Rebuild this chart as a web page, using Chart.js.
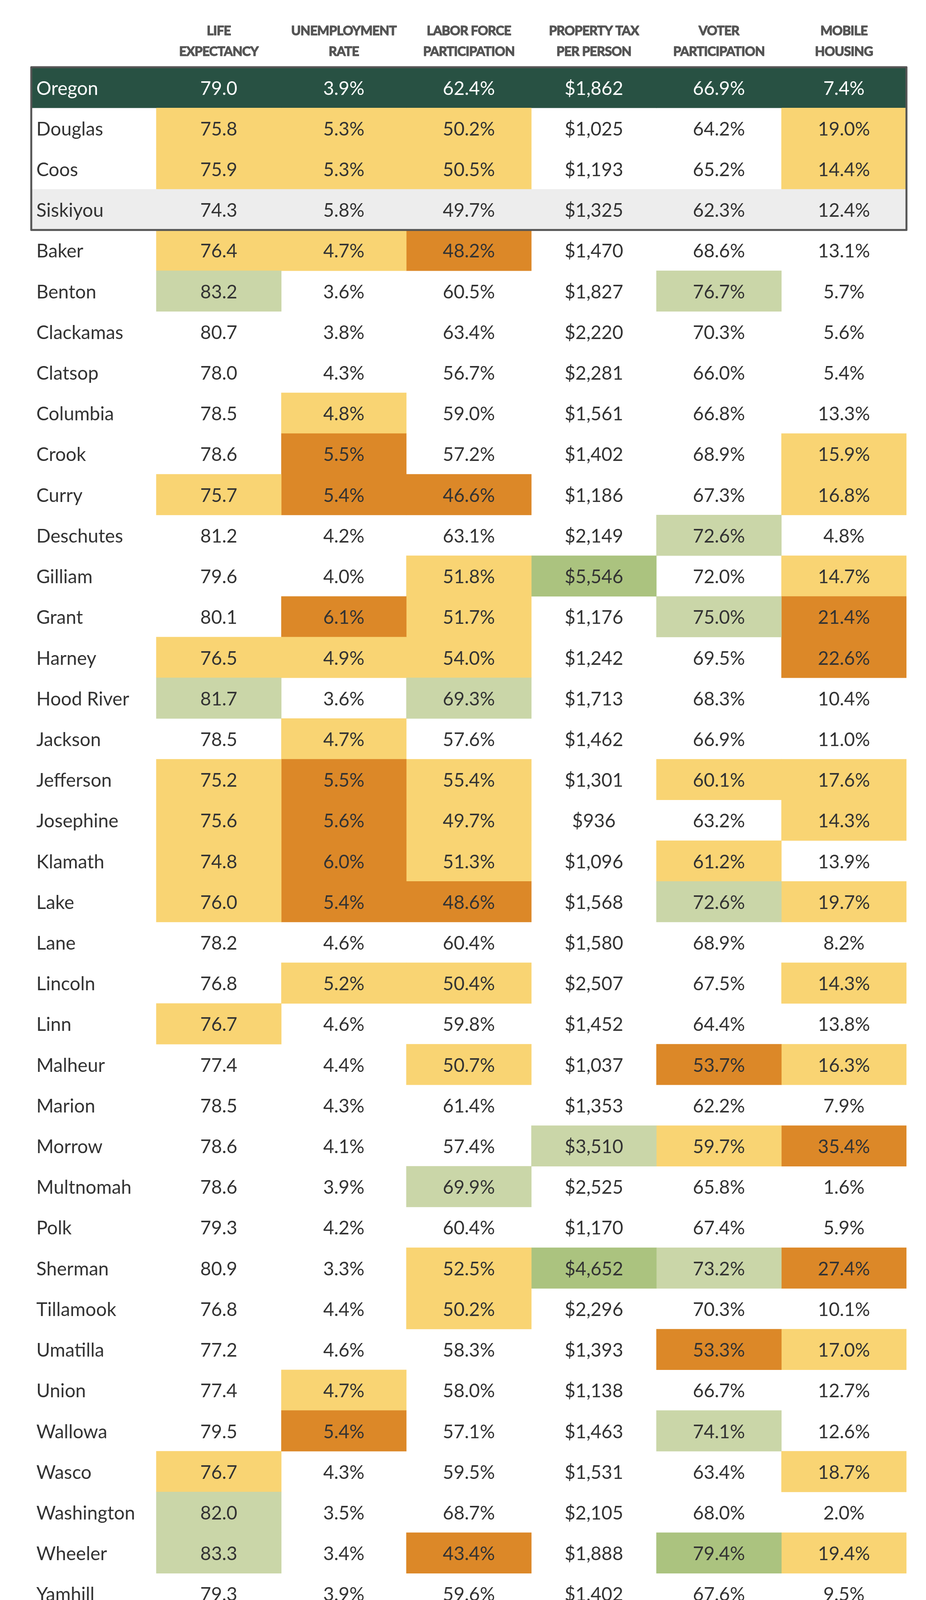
<!DOCTYPE html>
<html>
<head>
<meta charset="utf-8">
<script src="https://cdn.jsdelivr.net/npm/chart.js@4/dist/chart.umd.min.js"></script>
<style>
  html, body { margin: 0; padding: 0; background: #ffffff; overflow: hidden; }
  #wrap { width: 2370px; height: 4170px; overflow: hidden; }
  #c { display: block; }
</style>
</head>
<body>
<div id="wrap"><canvas id="c" width="2370" height="4170"></canvas></div>
<script>
// ---------------- DATA ----------------
const rowNames = ["Oregon","Douglas","Coos","Siskiyou","Baker","Benton","Clackamas","Clatsop","Columbia","Crook","Curry","Deschutes","Gilliam","Grant","Harney","Hood River","Jackson","Jefferson","Josephine","Klamath","Lake","Lane","Lincoln","Linn","Malheur","Marion","Morrow","Multnomah","Polk","Sherman","Tillamook","Umatilla","Union","Wallowa","Wasco","Washington","Wheeler","Yamhill"];
// row kind: state total, highlighted counties, comparison county, others
const rowKinds = ["state","box","box","compare","","","","","","","","","","","","","","","","","","","","","","","","","","","","","","","","","",""];

const columnHeaders = [["LIFE","EXPECTANCY"],["UNEMPLOYMENT","RATE"],["LABOR FORCE","PARTICIPATION"],["PROPERTY TAX","PER PERSON"],["VOTER","PARTICIPATION"],["MOBILE","HOUSING"]];

const lifeExpectancy = [79.0,75.8,75.9,74.3,76.4,83.2,80.7,78.0,78.5,78.6,75.7,81.2,79.6,80.1,76.5,81.7,78.5,75.2,75.6,74.8,76.0,78.2,76.8,76.7,77.4,78.5,78.6,78.6,79.3,80.9,76.8,77.2,77.4,79.5,76.7,82.0,83.3,79.3];
const unemploymentRate = [3.9,5.3,5.3,5.8,4.7,3.6,3.8,4.3,4.8,5.5,5.4,4.2,4.0,6.1,4.9,3.6,4.7,5.5,5.6,6.0,5.4,4.6,5.2,4.6,4.4,4.3,4.1,3.9,4.2,3.3,4.4,4.6,4.7,5.4,4.3,3.5,3.4,3.9];
const laborForce = [62.4,50.2,50.5,49.7,48.2,60.5,63.4,56.7,59.0,57.2,46.6,63.1,51.8,51.7,54.0,69.3,57.6,55.4,49.7,51.3,48.6,60.4,50.4,59.8,50.7,61.4,57.4,69.9,60.4,52.5,50.2,58.3,58.0,57.1,59.5,68.7,43.4,59.6];
const propertyTax = [1862,1025,1193,1325,1470,1827,2220,2281,1561,1402,1186,2149,5546,1176,1242,1713,1462,1301,936,1096,1568,1580,2507,1452,1037,1353,3510,2525,1170,4652,2296,1393,1138,1463,1531,2105,1888,1402];
const voterParticipation = [66.9,64.2,65.2,62.3,68.6,76.7,70.3,66.0,66.8,68.9,67.3,72.6,72.0,75.0,69.5,68.3,66.9,60.1,63.2,61.2,72.6,68.9,67.5,64.4,53.7,62.2,59.7,65.8,67.4,73.2,70.3,53.3,66.7,74.1,63.4,68.0,79.4,67.6];
const mobileHousing = [7.4,19.0,14.4,12.4,13.1,5.7,5.6,5.4,13.3,15.9,16.8,4.8,14.7,21.4,22.6,10.4,11.0,17.6,14.3,13.9,19.7,8.2,14.3,13.8,16.3,7.9,35.4,1.6,5.9,27.4,10.1,17.0,12.7,12.6,18.7,2.0,19.4,9.5];

// shading levels: "" none, "Y" worse, "O" much worse, "G" better, "GG" much better
const lifeLevel = ["","Y","Y","","Y","G","","","","","Y","","","","Y","G","","Y","Y","Y","Y","","","Y","","","","","","","","","","","Y","G","G",""];
const unempLevel = ["","Y","Y","","Y","","","","Y","O","O","","","O","Y","","Y","O","O","O","O","","Y","","","","","","","","","","Y","O","","","",""];
const laborLevel = ["","Y","Y","","O","","","","","","O","","Y","Y","Y","G","","Y","Y","Y","O","","Y","","Y","","","G","","Y","Y","","","","","","O",""];
const taxLevel = ["","","","","","","","","","","","","GG","","","","","","","","","","","","","","G","","","GG","","","","","","","",""];
const voterLevel = ["","","","","","G","","","","","","G","","G","","","","Y","","Y","G","","","","O","","Y","","","G","","O","","G","","","GG",""];
const mobileLevel = ["","Y","Y","","","","","","","Y","Y","","Y","O","O","","","Y","Y","","Y","","Y","","Y","","O","","","O","","Y","","","Y","","Y",""];

// ---------------- STYLE ----------------
const levelColors = { "": "rgba(0,0,0,0)", "Y": "#F9D473", "O": "#DC8828", "G": "#CAD6A8", "GG": "#ABC37F" };
const stateColor = "#285143";
const compareColor = "#EDEDED";
const textColor = "#333333";
const headerColor = "#555555";
const bodyFont = "Lato";

const fmt1 = v => v.toFixed(1);
const fmtPct = v => v.toFixed(1) + "%";
const fmtUsd = v => "$" + v.toLocaleString("en-US");

const columns = [
  { values: lifeExpectancy, levels: lifeLevel, fmt: fmt1 },
  { values: unemploymentRate, levels: unempLevel, fmt: fmtPct },
  { values: laborForce, levels: laborLevel, fmt: fmtPct },
  { values: propertyTax, levels: taxLevel, fmt: fmtUsd },
  { values: voterParticipation, levels: voterLevel, fmt: fmtPct },
  { values: mobileHousing, levels: mobileLevel, fmt: fmtPct }
];

function cellColor(rowIdx, lvl) {
  const k = rowKinds[rowIdx];
  if (k === "state") return stateColor;
  if (k === "compare") return compareColor;
  return levelColors[lvl];
}

// dataset 0: name column background; datasets 1..6: value cells
const datasets = [];
datasets.push({
  label: "County",
  data: rowNames.map(() => [0, 1]),
  backgroundColor: rowNames.map((n, i) => cellColor(i, ""))
});
columns.forEach((col, ci) => {
  datasets.push({
    label: columnHeaders[ci].join(" "),
    data: col.values.map(() => [ci + 1, ci + 2]),
    backgroundColor: col.values.map((v, i) => cellColor(i, col.levels[i]))
  });
});

const textPlugin = {
  id: "tableText",
  afterDatasetsDraw(chart) {
    const ctx = chart.ctx;
    const xs = chart.scales.x, ys = chart.scales.y;
    const area = chart.chartArea;
    ctx.save();
    // headers (bold, tightly tracked, slightly emboldened with a stroke)
    ctx.fillStyle = headerColor;
    ctx.strokeStyle = headerColor;
    ctx.lineWidth = 1.6;
    ctx.lineJoin = "round";
    ctx.font = "bold 33px " + bodyFont;
    try { ctx.letterSpacing = "-0.8px"; } catch (e) {}
    ctx.textAlign = "center";
    ctx.textBaseline = "middle";
    columnHeaders.forEach((lines, ci) => {
      const cx = xs.getPixelForValue(ci + 1.5);
      lines.forEach((t, li) => {
        const y = area.top - 93 + li * 53;
        ctx.fillText(t, cx, y);
        ctx.strokeText(t, cx, y);
      });
    });
    try { ctx.letterSpacing = "0px"; } catch (e) {}
    // body
    ctx.font = "400 48px " + bodyFont;
    rowNames.forEach((name, ri) => {
      const cy = ys.getPixelForValue(ri) + 3;
      ctx.fillStyle = rowKinds[ri] === "state" ? "#ffffff" : textColor;
      ctx.textAlign = "left";
      ctx.fillText(name, xs.getPixelForValue(0) + 13, cy);
      ctx.textAlign = "center";
      columns.forEach((col, ci) => {
        ctx.fillText(col.fmt(col.values[ri]), xs.getPixelForValue(ci + 1.5), cy);
      });
    });
    // box around state + comparison rows
    const boxRows = rowKinds.map((k, i) => k ? i : -1).filter(i => i >= 0);
    const first = Math.min(...boxRows), last = Math.max(...boxRows);
    const half = (ys.getPixelForValue(1) - ys.getPixelForValue(0)) / 2;
    const top = ys.getPixelForValue(first) - half;
    const bot = ys.getPixelForValue(last) + half;
    ctx.strokeStyle = "#555555";
    ctx.lineWidth = 5;
    ctx.strokeRect(xs.getPixelForValue(0), top, xs.getPixelForValue(7) - xs.getPixelForValue(0), bot - top);
    ctx.restore();
  }
};

new Chart(document.getElementById("c"), {
  type: "bar",
  data: { labels: rowNames, datasets },
  options: {
    indexAxis: "y",
    responsive: false,
    animation: false,
    devicePixelRatio: 1,
    layout: { padding: { left: 80, right: 50, top: 172, bottom: 38 } },
    datasets: { bar: { grouped: false, barPercentage: 1, categoryPercentage: 1, borderWidth: 0, borderSkipped: false } },
    scales: {
      x: { type: "linear", min: 0, max: 7, display: false },
      y: { type: "category", display: false, offset: true }
    },
    plugins: { legend: { display: false }, tooltip: { enabled: false } }
  },
  plugins: [textPlugin]
});
</script>
</body>
</html>
